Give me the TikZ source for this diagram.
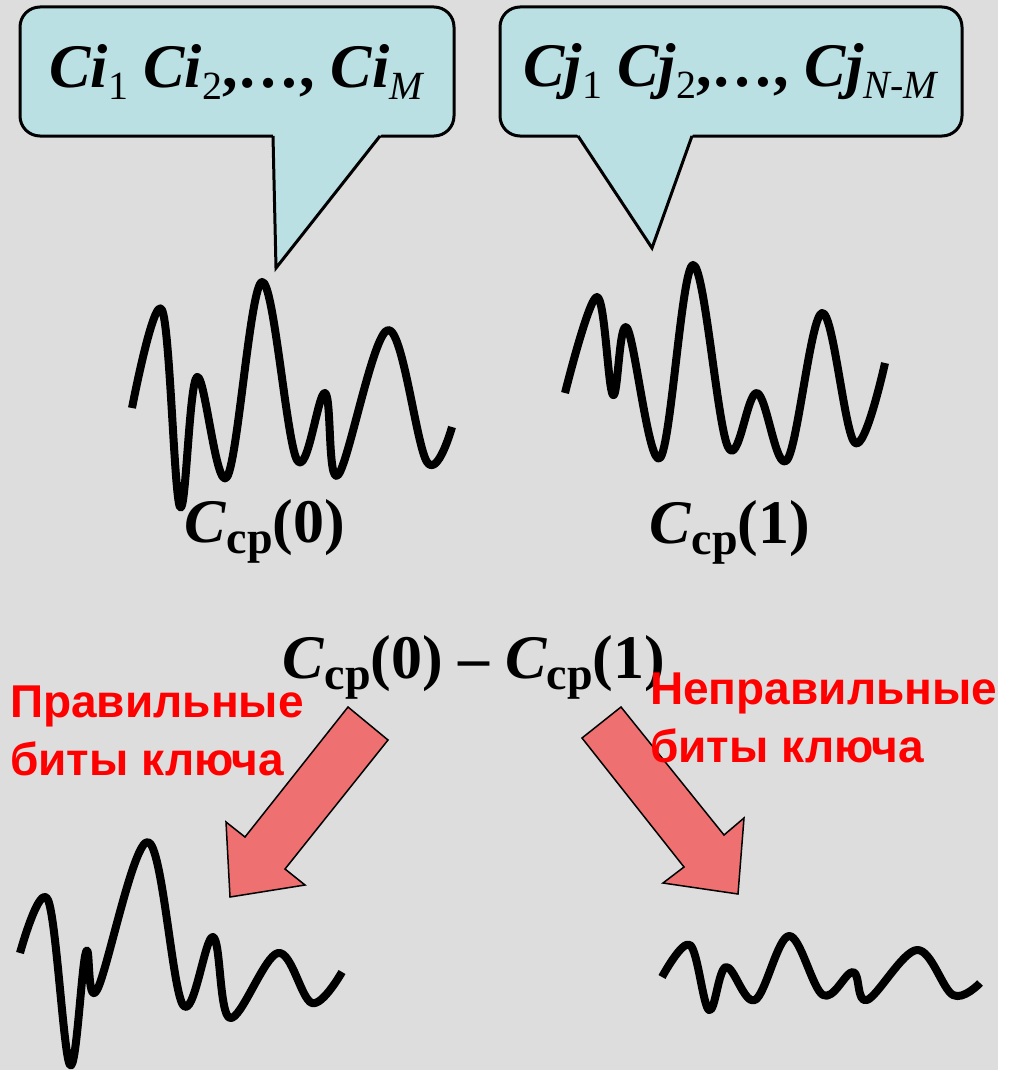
\documentclass[tikz,border=0pt]{standalone}
\usepackage{fontspec}
\setmainfont{Liberation Serif}
\newfontfamily\keyfont{Liberation Sans}
\usetikzlibrary{calc}
\definecolor{slidegray}{RGB}{221,221,221}
\definecolor{calloutblue}{RGB}{186,224,228}
\definecolor{arrowpink}{RGB}{238,112,112}
\definecolor{keyred}{RGB}{255,0,0}
\newcommand{\lowsub}[1]{\raisebox{-12pt}{\fontsize{40}{40}\selectfont\mdseries #1}}
\newcommand{\Cavg}[1]{\textit{C}\raisebox{-11pt}{\fontsize{46}{46}\selectfont ср}(#1)}

\begin{document}
\begin{tikzpicture}[
  x=1pt, y=-1pt,
  callout/.style={rectangle, rounded corners=20pt, draw=black, line width=3pt,
                  fill=calloutblue, minimum width=#1, minimum height=129pt,
                  inner sep=0pt, font=\fontsize{62}{70}\selectfont\bfseries},
  tail/.style={draw=black, line width=3pt, line join=miter},
  wave/.style={line width=8pt, line join=round},
  blockarrow/.style={draw=black, line width=1.5pt, fill=arrowpink, line join=miter},
  avglabel/.style={font=\fontsize{62}{70}\selectfont\bfseries, inner sep=0pt, anchor=base},
  keytext/.style={font=\keyfont\bfseries\fontsize{46}{58}\selectfont, text=keyred,
                  align=left, inner sep=0pt, anchor=base west},
]
  % slide background
  \useasboundingbox (0,0) rectangle (1018,1070);
  \fill[white] (0,0) rectangle (1018,1070);
  \fill[slidegray] (0,0) rectangle (998,1070);

  % callouts
  \node[callout=434pt] (calli) at (237,71.5)
    {\textit{Ci}\lowsub{1} \textit{Ci}\lowsub{2},…, \textit{Ci}\lowsub{\textit{M}}};
  \fill[calloutblue] (273,131) -- (276,268) -- (384,131) -- cycle;
  \draw[tail] (273,136) -- (276,268) -- (380,136);

  \node[callout=462pt] (callj) at (731,71.5)
    {\textit{Cj}\lowsub{1} \textit{Cj}\lowsub{2},…, \textit{Cj}\lowsub{\textit{N-M}}};
  \fill[calloutblue] (575,131) -- (652,248) -- (694,131) -- cycle;
  \draw[tail] (578,136) -- (652,248) -- (692,136);

  % averaged traces
  \draw[wave] plot[smooth, tension=0.6] coordinates {(132,408) (162,310) (180,507)
    (197,377) (227,477) (262,282) (297,460) (325,393) (338,475) (388,330) (427,462) (452,427)};
  \draw[wave] plot[smooth, tension=0.6] coordinates {(565,393) (597,297) (613,395)
    (627,328) (660,458) (693,265) (728,447) (757,393) (787,460) (822,313) (855,443) (885,363)};

  \node[avglabel] (avg0) at (265,542) {\Cavg{0}};
  \node[avglabel] (avg1) at (730,543) {\Cavg{1}};
  \node[avglabel] (diff) at (474,678) {\Cavg{0} – \Cavg{1}};

  % block arrows
  \draw[blockarrow] (348,707) -- (388,740) -- (285,869) -- (305,885) -- (230,897)
    -- (226,822) -- (245,837) -- cycle;
  \draw[blockarrow] (621,707) -- (582,738) -- (684,867) -- (663,883) -- (738,894)
    -- (744,818) -- (724,835) -- cycle;

  % difference traces
  \draw[wave] plot[smooth, tension=0.6] coordinates {(20,953) (48,900) (70,1065)
    (86,952) (97,990) (148,842) (183,1005) (213,937) (230,1018) (278,953) (312,1003) (342,972)};
  \draw[wave] plot[smooth, tension=0.6] coordinates {(662,977) (690,945) (709,1010)
    (726,967) (755,1000) (789,936) (823,995) (853,972) (867,1000) (917,950) (953,995) (980,983)};

  \node[keytext] (rightbits) at (10,775) {Правильные\\биты ключа};
  \node[keytext] (wrongbits) at (650,762) {Неправильные\\биты ключа};
\end{tikzpicture}
\end{document}
